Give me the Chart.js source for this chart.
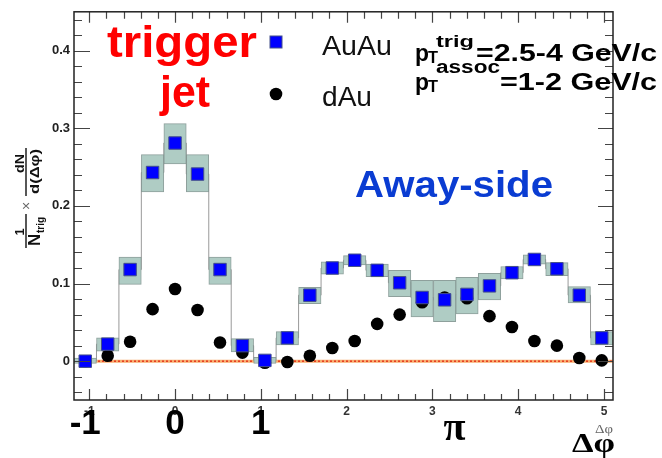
<!DOCTYPE html>
<html>
<head>
<meta charset="utf-8">
<script src="https://cdn.jsdelivr.net/npm/chart.js@4.4.1/dist/chart.umd.min.js"></script>
<style>
  html, body { margin: 0; padding: 0; background: #fff; }
  #wrap { width: 662px; height: 458px; }
</style>
</head>
<body>
<div id="wrap"><canvas id="dphiChart" width="662" height="458"></canvas></div>
<script>
// bin centres in delta-phi (24 bins of pi/12)
const dphi = [-1.047, -0.785, -0.524, -0.262, 0.000, 0.262, 0.524, 0.785,
              1.047, 1.309, 1.571, 1.833, 2.094, 2.356, 2.618, 2.880,
              3.142, 3.403, 3.665, 3.927, 4.189, 4.451, 4.712, 4.974];

const auau = [0.000, 0.022, 0.118, 0.243, 0.281, 0.241, 0.118, 0.020,
              0.001, 0.030, 0.085, 0.120, 0.130, 0.117, 0.101, 0.082,
              0.079, 0.086, 0.097, 0.114, 0.131, 0.119, 0.085, 0.030];

// systematic band for AuAu
const auauSysLow  = [-0.003, 0.013, 0.099, 0.218, 0.254, 0.218, 0.099, 0.012,
                     -0.003, 0.021, 0.074, 0.112, 0.124, 0.109, 0.083, 0.057,
                      0.051, 0.061, 0.079, 0.106, 0.125, 0.110, 0.075, 0.021];
const auauSysHigh = [0.004, 0.030, 0.134, 0.266, 0.306, 0.266, 0.134, 0.029,
                     0.005, 0.038, 0.095, 0.128, 0.136, 0.125, 0.117, 0.104,
                     0.104, 0.108, 0.113, 0.122, 0.137, 0.127, 0.096, 0.038];

const dau = [0.000, 0.007, 0.025, 0.067, 0.093, 0.066, 0.024, 0.011,
             -0.002, -0.001, 0.007, 0.017, 0.026, 0.048, 0.060, 0.076,
             0.082, 0.081, 0.058, 0.044, 0.026, 0.020, 0.004, 0.001];

const xTickValues = [-1, 0, 1, 2, 3, 4, 5];
const yTickValues = [0, 0.1, 0.2, 0.3, 0.4];
const bigXLabels = [{v: -1, t: '-1'}, {v: 0, t: '0'}, {v: 1, t: '1'}];

const X_MIN = -1.178, X_MAX = 5.105;
const Y_MIN = -0.05, Y_MAX = 0.45;

const SANS = '"Liberation Sans", Arial, Helvetica, sans-serif';
const SERIF = '"Liberation Serif", "Times New Roman", serif';

// draw text with left edge / baseline, optionally squeezed to a width
function fitText(ctx, str, left, baseline, font, color, width) {
    ctx.save();
    ctx.font = font;
    ctx.fillStyle = color;
    ctx.textAlign = 'left';
    ctx.textBaseline = 'alphabetic';
    const w = ctx.measureText(str).width;
    const sx = width ? width / w : 1;
    ctx.translate(left, baseline);
    ctx.scale(sx, 1);
    ctx.fillText(str, 0, 0);
    ctx.restore();
}

const rootStyle = {
    id: 'rootStyle',
    beforeDatasetsDraw(chart) {
        const { ctx, chartArea: a, scales: { y } } = chart;
        const y0 = y.getPixelForValue(0);
        ctx.save();
        ctx.strokeStyle = 'rgba(246,165,95,0.9)';
        ctx.lineWidth = 3;
        ctx.beginPath(); ctx.moveTo(a.left, y0); ctx.lineTo(a.right, y0); ctx.stroke();
        ctx.strokeStyle = '#e5301a';
        ctx.lineWidth = 1.4;
        ctx.setLineDash([2, 2]);
        ctx.beginPath(); ctx.moveTo(a.left, y0); ctx.lineTo(a.right, y0); ctx.stroke();
        ctx.restore();
    },
    afterDatasetsDraw(chart) {
        const { ctx, chartArea: a, scales: { x, y } } = chart;
        ctx.save();
        ctx.strokeStyle = '#444';
        ctx.lineWidth = 1.2;
        ctx.beginPath();
        // x ticks every 0.2, long on integers
        for (let i = -5; i <= 25; i++) {
            const px = Math.round(x.getPixelForValue(i * 0.2)) + 0.5;
            const major = i % 5 === 0;
            ctx.moveTo(px, a.bottom); ctx.lineTo(px, a.bottom - (major ? 11 : 6));
            ctx.moveTo(px, a.top); ctx.lineTo(px, a.top + (major ? 11 : 7));
        }
        // y ticks every 0.02
        for (let i = -2; i <= 22; i++) {
            const py = Math.round(y.getPixelForValue(i * 0.02)) + 0.5;
            const major = i % 5 === 0;
            ctx.moveTo(a.left, py); ctx.lineTo(a.left + (major ? 16 : 8), py);
            ctx.moveTo(a.right, py); ctx.lineTo(a.right - (major ? 15 : 8), py);
        }
        ctx.stroke();
        ctx.strokeStyle = '#222';
        ctx.lineWidth = 1.5;
        ctx.strokeRect(a.left, a.top, a.right - a.left, a.bottom - a.top);
        ctx.restore();
    },
    afterDraw(chart) {
        const { ctx, scales: { x } } = chart;

        // big x labels
        ctx.save();
        ctx.font = 'bold 35px ' + SANS;
        ctx.fillStyle = '#000';
        ctx.textAlign = 'center';
        ctx.textBaseline = 'alphabetic';
        bigXLabels.forEach(l => ctx.fillText(l.t, x.getPixelForValue(l.v) - (l.v < 0 ? 4 : 0), 434));
        ctx.restore();
        fitText(ctx, 'π', x.getPixelForValue(Math.PI) - 1, 440, 'bold 40px ' + SERIF, '#000', 22);
        fitText(ctx, 'Δφ', 572, 452, 'bold 28px ' + SERIF, '#000', 43);
        fitText(ctx, 'Δφ', 595, 433, '12px ' + SERIF, '#666', 18);

        // y axis title, rotated
        ctx.save();
        ctx.translate(26, 250);
        ctx.rotate(-Math.PI / 2);
        ctx.fillStyle = '#111';
        ctx.textBaseline = 'alphabetic';
        ctx.textAlign = 'center';
        ctx.font = 'bold 13px ' + SANS;
        ctx.fillText('1', 18, -2);
        ctx.fillRect(2, -0.7, 34, 1.4);
        fitText(ctx, 'N', 4, 14, 'bold 17px ' + SANS, '#111');
        fitText(ctx, 'trig', 17, 18, 'bold 10px ' + SANS, '#111');
        ctx.textAlign = 'center';
        ctx.font = '14px ' + SANS;
        ctx.fillStyle = '#666';
        ctx.fillText('×', 44, 5);
        fitText(ctx, 'dN', 77, -2, 'bold 13px ' + SANS, '#111', 19);
        ctx.fillStyle = '#111';
        ctx.fillRect(54, -0.7, 48, 1.4);
        fitText(ctx, 'd(Δφ)', 56, 13, 'bold 13px ' + SANS, '#111', 45);
        ctx.restore();

        // labels
        fitText(ctx, 'trigger', 107, 57, 'bold 44px ' + SANS, '#ff0000', 150);
        fitText(ctx, 'jet', 160, 107, 'bold 44px ' + SANS, '#ff0000', 50);
        fitText(ctx, 'Away-side', 355, 197, 'bold 36px ' + SANS, '#0a3cd2', 198);

        // legend
        ctx.save();
        ctx.fillStyle = '#0000ff';
        ctx.strokeStyle = '#44508a';
        ctx.lineWidth = 1;
        ctx.fillRect(270, 36, 12, 12);
        ctx.strokeRect(270, 36, 12, 12);
        ctx.fillStyle = '#000';
        ctx.beginPath(); ctx.arc(276, 94, 6.3, 0, Math.PI * 2); ctx.fill();
        ctx.restore();
        fitText(ctx, 'AuAu', 322, 55, '28px ' + SANS, '#111', 70);
        fitText(ctx, 'dAu', 322, 106, '28px ' + SANS, '#111', 50);

        // kinematic cuts
        fitText(ctx, 'p', 415, 61, 'bold 24px ' + SANS, '#000', 14);
        fitText(ctx, 'T', 428, 63, 'bold 16px ' + SANS, '#000', 10);
        fitText(ctx, 'trig', 436, 47, 'bold 17px ' + SANS, '#000', 38);
        fitText(ctx, '=2.5-4 GeV/c', 476, 61, 'bold 24px ' + SANS, '#000', 181);
        fitText(ctx, 'p', 415, 90, 'bold 24px ' + SANS, '#000', 14);
        fitText(ctx, 'T', 428, 92, 'bold 16px ' + SANS, '#000', 10);
        fitText(ctx, 'assoc', 436, 73, 'bold 18px ' + SANS, '#000', 64);
        fitText(ctx, '=1-2 GeV/c', 500, 90, 'bold 24px ' + SANS, '#000', 157);
    }
};

const ctx = document.getElementById('dphiChart').getContext('2d');

const dphiChart = new Chart(ctx, {
    type: 'line',
    data: {
        datasets: [
            {
                label: 'AuAu',
                data: dphi.map((v, i) => ({ x: v, y: auau[i] })),
                showLine: false,
                pointStyle: 'rect',
                pointRadius: 8.8,
                backgroundColor: '#0000ff',
                borderColor: '#44508a',
                borderWidth: 1,
                order: 1
            },
            {
                label: 'dAu',
                data: dphi.map((v, i) => ({ x: v, y: dau[i] })),
                showLine: false,
                pointStyle: 'circle',
                pointRadius: 6.3,
                backgroundColor: '#000',
                borderColor: '#000',
                borderWidth: 0,
                order: 2
            },
            {
                type: 'bar',
                label: 'AuAu sys',
                data: dphi.map((v, i) => ({ x: v, y: [auauSysLow[i], auauSysHigh[i]] })),
                backgroundColor: '#afccc4',
                borderColor: 'rgba(130,150,145,0.9)',
                borderWidth: 1,
                borderSkipped: false,
                barPercentage: 1,
                categoryPercentage: 1,
                grouped: false,
                order: 3
            },
            {
                label: 'AuAu step',
                data: dphi.map((v, i) => ({ x: v, y: auau[i] })),
                stepped: 'middle',
                borderColor: '#999',
                borderWidth: 1,
                pointRadius: 0,
                fill: false,
                order: 4
            }
        ]
    },
    options: {
        responsive: false,
        devicePixelRatio: 1,
        animation: false,
        layout: { padding: { top: 7, right: 49, bottom: 0, left: 0 } },
        plugins: { legend: { display: false }, tooltip: { enabled: false } },
        scales: {
            x: {
                type: 'linear',
                min: X_MIN,
                max: X_MAX,
                offset: false,
                grid: { display: false, drawTicks: false },
                border: { display: false },
                afterBuildTicks: s => { s.ticks = xTickValues.map(v => ({ value: v })); },
                afterFit: s => { s.height = 58; },
                ticks: {
                    autoSkip: false,
                    maxRotation: 0,
                    padding: 4,
                    color: '#333',
                    font: { family: SANS, size: 12, weight: 'bold' },
                    callback: v => String(v)
                }
            },
            y: {
                min: Y_MIN,
                max: Y_MAX,
                grid: { display: false, drawTicks: false },
                border: { display: false },
                afterBuildTicks: s => { s.ticks = yTickValues.map(v => ({ value: v })); },
                afterFit: s => { s.width = 74; },
                ticks: {
                    padding: 4,
                    color: '#222',
                    font: { family: SANS, size: 13, weight: 'bold' },
                    callback: v => (v === 0 ? '0' : v.toFixed(1))
                }
            }
        }
    },
    plugins: [rootStyle]
});
</script>
</body>
</html>
